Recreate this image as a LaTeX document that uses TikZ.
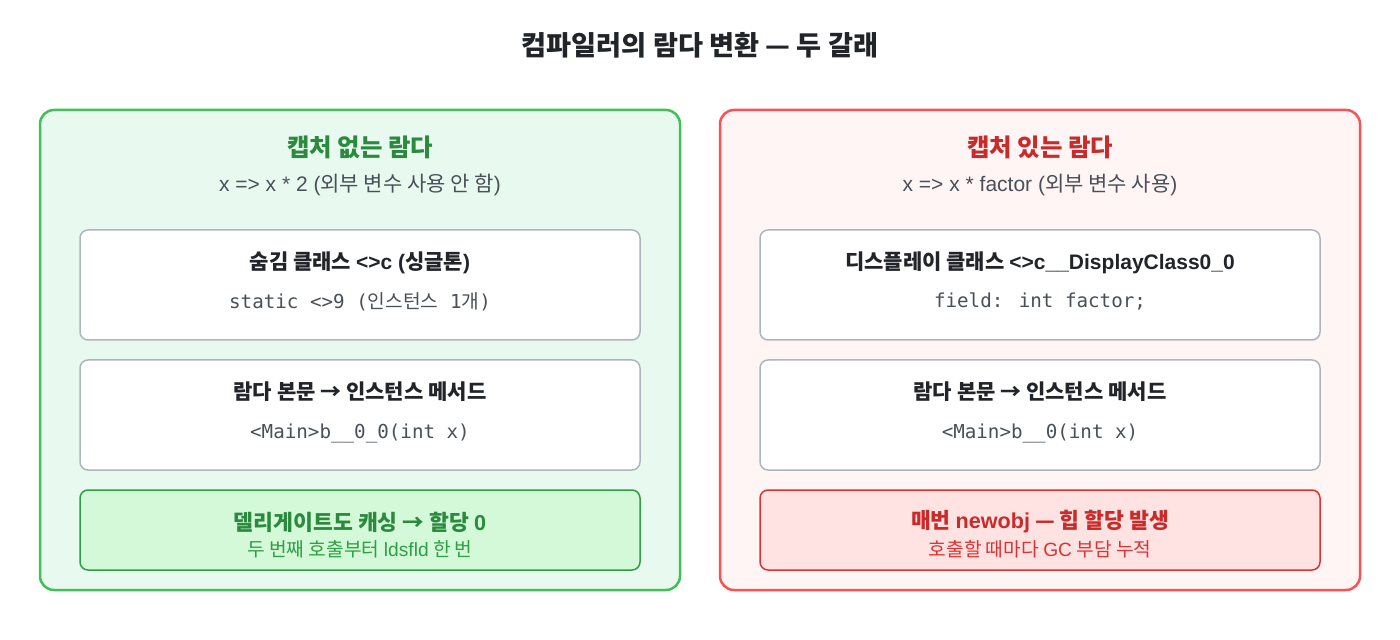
\documentclass[tikz,border=0pt]{standalone}
\usepackage{fontspec}
\setmainfont{Noto Sans CJK KR}
\newfontfamily\latfont{Liberation Sans}
\newfontfamily\monofont{DejaVu Sans Mono}
\newfontfamily\krfont{Noto Sans CJK KR}
\newcommand\lt[1]{{\latfont #1}}
\newcommand\kr[1]{{\krfont #1}}

\definecolor{titleink}{HTML}{212529}
\definecolor{bodyink}{HTML}{495057}
\definecolor{cardline}{HTML}{ADB5BD}
\definecolor{greenline}{HTML}{40C057}
\definecolor{greenfill}{HTML}{E8FAF0}
\definecolor{greenink}{HTML}{2B8A3E}
\definecolor{greenmid}{HTML}{2F9E44}
\definecolor{greenbox}{HTML}{D3F9D8}
\definecolor{redline}{HTML}{FA5252}
\definecolor{redfill}{HTML}{FFF5F5}
\definecolor{redink}{HTML}{C92A2A}
\definecolor{redmid}{HTML}{E03131}
\definecolor{redbox}{HTML}{FFE3E3}

\begin{document}
\begin{tikzpicture}[x=0.5pt,y=-0.5pt,
  panel/.style={draw, line width=1.25pt, rounded corners=7pt, minimum width=320pt, minimum height=240pt},
  card/.style={draw=cardline, fill=white, line width=0.75pt, rounded corners=4pt, minimum width=280pt, minimum height=55pt},
  notebox/.style={line width=0.75pt, rounded corners=4pt, minimum width=280pt, minimum height=40pt},
  headline/.style={font=\bfseries\fontsize{13.6}{16}\selectfont, text=titleink},
  paneltitle/.style={font=\bfseries\fontsize{12.2}{14}\selectfont},
  subline/.style={font=\fontsize{10.5}{12}\selectfont, text=bodyink},
  cardtitle/.style={font=\bfseries\fontsize{10.5}{12}\selectfont, text=titleink},
  codeline/.style={font=\monofont\fontsize{9.6}{11}\selectfont, text=bodyink},
  notetitle/.style={font=\bfseries\fontsize{10.8}{12}\selectfont},
  notesub/.style={font=\fontsize{9.6}{11}\selectfont}]
\useasboundingbox (0,0) rectangle (1400,640);

\node[headline] (head) at (700,45) {컴파일러의 람다 변환 — 두 갈래};

% left: no capture
\node[panel, draw=greenline, fill=greenfill] (nocap) at (360,350) {};
\node[paneltitle, text=greenink] (nocaptitle) at (360,147) {캡처 없는 람다};
\node[subline] (nocapsub) at (360,185) {\lt{x => x * 2 (}외부 변수 사용 안 함\lt{)}};

\node[card] (singleton) at (360,285) {};
\node[cardtitle] (singletontitle) at (360,263) {숨김 클래스 \lt{<>c (}싱글톤\lt{)}};
\node[codeline] (singletoncode) at (360,302) {static <>9 (\kr{인스턴스} 1\kr{개})};

\node[card] (nocapbody) at (360,415) {};
\node[cardtitle] (nocapbodytitle) at (360,392) {람다 본문 → 인스턴스 메서드};
\node[codeline] (nocapbodycode) at (360,433) {<Main>b\_\_0\_0(int x)};

\node[notebox, draw=greenmid, fill=greenbox] (cached) at (360,530) {};
\node[notetitle, text=greenink] (cachedtitle) at (360,522) {델리게이트도 캐싱 → 할당 \lt{0}};
\node[notesub, text=greenmid] (cachedsub) at (360,549) {두 번째 호출부터 \lt{ldsfld} 한 번};

% right: capture
\node[panel, draw=redline, fill=redfill] (cap) at (1040,350) {};
\node[paneltitle, text=redink] (captitle) at (1040,147) {캡처 있는 람다};
\node[subline] (capsub) at (1040,185) {\lt{x => x * factor (}외부 변수 사용\lt{)}};

\node[card] (display) at (1040,285) {};
\node[cardtitle] (displaytitle) at (1040,263) {디스플레이 클래스 \lt{<>c\_\_DisplayClass0\_0}};
\node[codeline] (displaycode) at (1040,302) {field: int factor;};

\node[card] (capbody) at (1040,415) {};
\node[cardtitle] (capbodytitle) at (1040,392) {람다 본문 → 인스턴스 메서드};
\node[codeline] (capbodycode) at (1040,433) {<Main>b\_\_0(int x)};

\node[notebox, draw=redmid, fill=redbox] (alloc) at (1040,530) {};
\node[notetitle, text=redink] (alloctitle) at (1040,522) {매번 \lt{newobj} — 힙 할당 발생};
\node[notesub, text=redmid] (allocsub) at (1040,549) {호출할 때마다 \lt{GC} 부담 누적};
\end{tikzpicture}
\end{document}
